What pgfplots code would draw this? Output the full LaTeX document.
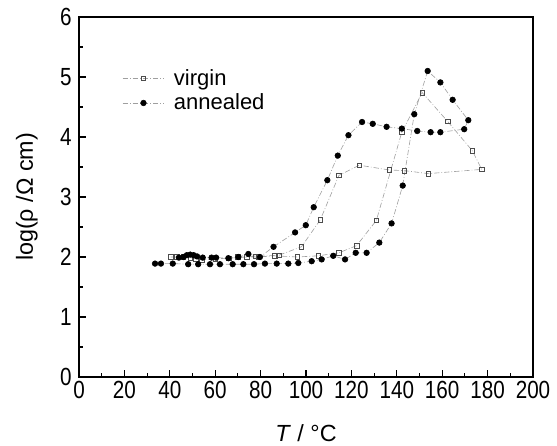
\documentclass[border=0pt]{standalone}
\usepackage{fontspec}
\setmainfont{Liberation Sans}
\usepackage{pgfplots}
\pgfplotsset{compat=1.18}
\usepackage{pgfplotstable}

% resistivity vs temperature, heating and cooling runs
\pgfplotstableread{
T rho
40.4 2.00
43.0 2.00
46.0 2.00
49.0 1.99
51.5 1.97
54.0 1.95
60.0 1.97
66.0 1.98
73.9 2.00
79.0 2.00
86.3 2.02
96.2 2.00
105.4 2.02
114.5 2.07
122.3 2.19
131.0 2.61
142.2 4.08
151.2 4.74
162.4 4.26
173.3 3.77
177.4 3.46
153.9 3.39
143.3 3.44
136.7 3.45
123.5 3.53
114.5 3.36
106.3 2.62
98.0 2.17
88.0 2.03
78.0 2.01
70.0 2.00
}\virgin

\pgfplotstableread{
T rho
33.5 1.89
36.1 1.89
41.3 1.89
48.1 1.88
52.5 1.88
57.7 1.88
62.1 1.88
67.7 1.88
72.4 1.88
77.1 1.88
81.9 1.89
87.1 1.89
92.2 1.89
96.6 1.90
102.5 1.93
106.9 1.96
112.0 2.02
117.2 1.96
121.9 2.07
126.7 2.07
132.3 2.24
137.7 2.56
142.6 3.19
147.7 4.38
153.6 5.10
159.2 4.91
164.6 4.62
171.5 4.28
169.7 4.13
159.2 4.08
154.9 4.08
149.0 4.10
142.2 4.14
135.5 4.17
129.4 4.22
124.7 4.25
118.7 4.03
114.0 3.69
109.4 3.28
103.4 2.83
99.9 2.53
95.2 2.41
85.7 2.17
79.7 2.00
74.6 2.05
70.2 2.00
65.8 1.98
60.4 1.99
58.4 1.99
54.5 1.99
52.0 2.01
50.5 2.03
49.0 2.04
47.5 2.03
46.0 2.00
44.0 1.99
}\annealed

\begin{document}
\begin{tikzpicture}
\begin{axis}[
  name=ax,
  scale only axis,
  width=340.5pt, height=270pt,
  xmin=0, xmax=200, ymin=0, ymax=6,
  xtick distance=20, ytick distance=1,
  minor x tick num=1, minor y tick num=1,
  tick align=inside, tick pos=left,
  major tick length=5pt, minor tick length=3pt,
  axis line style={line width=1pt},
  every tick/.style={line width=0.8pt, black},
  /pgf/number format/assume math mode=true,
  ticklabel style={font=\fontsize{15.5}{18}\selectfont, yscale=1.2},
  xticklabel style={yshift=1pt},
  yticklabel style={xshift=-2pt},
  xlabel={\textit{T} / °C},
  ylabel={log(ρ /Ω cm)},
  label style={font=\fontsize{17.5}{20}\selectfont},
  xlabel style={at={(axis description cs:0.5,-0.155)}, anchor=center},
  ylabel style={at={(axis description cs:-0.115,0.5)}, anchor=center},
  legend style={at={(0.086,0.87)}, anchor=north west, draw=none, fill=none,
    font=\fontsize{16.5}{19}\selectfont, row sep=1pt,
    /tikz/every odd column/.append style={column sep=5pt}},
  legend cell align=left,
  legend image code/.code={%
    \draw[mark repeat=2,mark phase=2,#1] plot coordinates {(0cm,0cm) (0.55cm,0cm) (1.1cm,0cm)};},
]
\addplot[gray!75, line width=0.45pt, dash pattern=on 4pt off 1.5pt on 0.6pt off 1.5pt,
  mark=square, mark size=1.7pt, mark options={solid, gray!60!black, line width=0.5pt}]
  table[x=T, y=rho] {\virgin};
\addlegendentry{virgin}
\addplot[gray!75, line width=0.45pt, dash pattern=on 4pt off 1.5pt on 0.6pt off 1.5pt,
  mark=*, mark size=2.1pt, mark options={solid, black, fill=black}]
  table[x=T, y=rho] {\annealed};
\addlegendentry{annealed}
\end{axis}
% white margin round the figure
\path (ax.south west) ++(-59.25pt,-50.25pt) coordinate (bl);
\path (ax.north east) ++(18pt,12.75pt) coordinate (tr);
\path[use as bounding box] (bl) rectangle (tr);
\end{tikzpicture}
\end{document}
